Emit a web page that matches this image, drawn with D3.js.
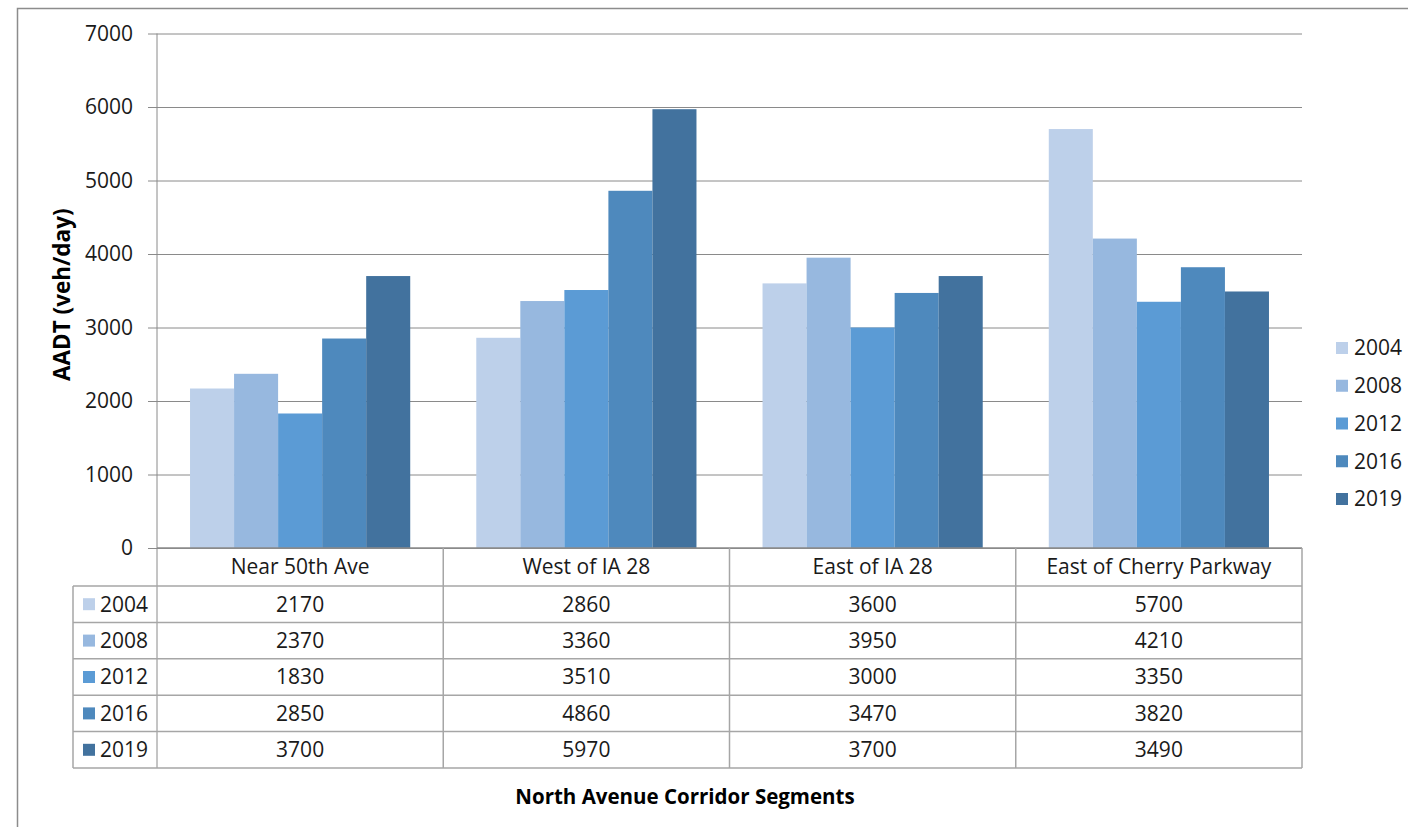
<!DOCTYPE html>
<html>
<head>
<meta charset="utf-8">
<script src="https://cdn.jsdelivr.net/npm/d3@7"></script>
<style>
  html, body { margin: 0; padding: 0; background: #fff; }
  svg { display: block; font-family: "Open Sans", "Noto Sans", sans-serif; }
</style>
</head>
<body>
<svg id="chart" width="1408" height="827"></svg>
<script>
// AADT by corridor segment and count year
const categories = ["Near 50th Ave", "West of IA 28", "East of IA 28", "East of Cherry Parkway"];
const years = ["2004", "2008", "2012", "2016", "2019"];
const v2004 = [2170, 2860, 3600, 5700];
const v2008 = [2370, 3360, 3950, 4210];
const v2012 = [1830, 3510, 3000, 3350];
const v2016 = [2850, 4860, 3470, 3820];
const v2019 = [3700, 5970, 3700, 3490];
const yTicks = [0, 1000, 2000, 3000, 4000, 5000, 6000, 7000];
const yTitle = "AADT (veh/day)";
const xTitle = "North Avenue Corridor Segments";

const seriesValues = [v2004, v2008, v2012, v2016, v2019];
const colors = ["#bdd0ea", "#97b8df", "#5b9bd5", "#4e89bd", "#42729e"];
const series = years.map((yr, i) => ({ year: yr, values: seriesValues[i], color: colors[i] }));

const svg = d3.select("#chart");
const gridColor = "#8a8a8a";
const tableColor = "#a6a6a6";
const textColor = "#1a1a1a";
const fs = 21;

// plot geometry
const plotLeft = 157, plotRight = 1302, plotTop = 33.5, plotBase = 548;
const tableLeft = 73, tableHeaderBottom = 586, tableBottom = 768;

const x0 = d3.scaleBand().domain(categories).range([plotLeft, plotRight]).paddingInner(0).paddingOuter(0);
// 150% gap between groups -> bars take 5 / 6.5 of the band
const groupPad = 0.75 / 6.5;
const x1 = d3.scaleBand().domain(years).range([x0.bandwidth() * groupPad, x0.bandwidth() * (1 - groupPad)]).padding(0);
const y = d3.scaleLinear().domain([0, 7000]).range([plotBase, plotTop]);

// outer frame
svg.append("path")
  .attr("d", `M17.5,827 V8.5 H1408`)
  .attr("fill", "none").attr("stroke", "#8c8c8c").attr("stroke-width", 1.5);

// gridlines and y axis
const yAxis = d3.axisLeft(y).tickValues(yTicks).tickSize(-(plotRight - plotLeft)).tickPadding(24).tickFormat(d3.format("d"));
const gy = svg.append("g").attr("transform", `translate(${plotLeft},0)`).call(yAxis);
gy.select(".domain").remove();
gy.selectAll(".tick line").attr("stroke", gridColor).attr("x1", -9).attr("stroke-width", 1);
gy.selectAll(".tick text").attr("font-size", fs).attr("fill", textColor)
  .attr("font-family", "'Open Sans', sans-serif");

// bars
const groups = svg.append("g").selectAll("g").data(series).join("g").attr("fill", d => d.color);
groups.selectAll("rect")
  .data(d => d.values.map((v, i) => ({ cat: categories[i], year: d.year, v })))
  .join("rect")
  .attr("x", d => x0(d.cat) + x1(d.year))
  .attr("width", x1.bandwidth())
  .attr("y", d => y(d.v))
  .attr("height", d => plotBase - y(d.v));

// y axis line (continues through the data table)
svg.append("line").attr("x1", plotLeft).attr("x2", plotLeft).attr("y1", plotTop).attr("y2", tableBottom)
  .attr("stroke", gridColor).attr("stroke-width", 1);

// data table
const rowScale = d3.scaleBand().domain(years).range([tableHeaderBottom, tableBottom]);
const tbl = svg.append("g").attr("stroke", tableColor).attr("stroke-width", 1.5).attr("fill", "none");
// horizontal rules
tbl.append("line").attr("x1", plotLeft).attr("x2", plotRight).attr("y1", plotBase).attr("y2", plotBase).attr("stroke", gridColor);
tbl.selectAll("line.row").data(years).join("line").attr("class", "row")
  .attr("x1", tableLeft).attr("x2", plotRight)
  .attr("y1", d => rowScale(d)).attr("y2", d => rowScale(d));
tbl.append("line").attr("x1", tableLeft).attr("x2", plotRight).attr("y1", tableBottom).attr("y2", tableBottom);
// vertical rules
tbl.append("line").attr("x1", tableLeft).attr("x2", tableLeft).attr("y1", tableHeaderBottom).attr("y2", tableBottom);
tbl.selectAll("line.col").data(categories).join("line").attr("class", "col")
  .attr("x1", d => x0(d) + x0.bandwidth()).attr("x2", d => x0(d) + x0.bandwidth())
  .attr("y1", plotBase).attr("y2", tableBottom);

// category headers
svg.append("g").selectAll("text").data(categories).join("text")
  .attr("x", d => x0(d) + x0.bandwidth() / 2)
  .attr("y", (plotBase + tableHeaderBottom) / 2)
  .attr("dy", "0.35em").attr("text-anchor", "middle")
  .attr("font-size", fs).attr("fill", textColor)
  .text(d => d);

// row keys and values
const rows = svg.append("g").selectAll("g").data(series).join("g")
  .attr("transform", d => `translate(0,${rowScale(d.year) + rowScale.bandwidth() / 2})`);
rows.append("rect").attr("x", 83).attr("y", -6).attr("width", 12).attr("height", 12).attr("fill", d => d.color);
rows.append("text").attr("x", 100).attr("dy", "0.35em").attr("font-size", fs).attr("fill", textColor).text(d => d.year);
rows.selectAll("text.val").data(d => d.values.map((v, i) => ({ cat: categories[i], v })))
  .join("text").attr("class", "val")
  .attr("x", d => x0(d.cat) + x0.bandwidth() / 2)
  .attr("dy", "0.35em").attr("text-anchor", "middle")
  .attr("font-size", fs).attr("fill", textColor)
  .text(d => d.v);

// legend
const legendY = d3.scalePoint().domain(years).range([348, 499]);
const lg = svg.append("g").selectAll("g").data(series).join("g")
  .attr("transform", d => `translate(1336,${legendY(d.year)})`);
lg.append("rect").attr("x", 0).attr("y", -6).attr("width", 12).attr("height", 12).attr("fill", d => d.color);
lg.append("text").attr("x", 18).attr("dy", "0.35em").attr("font-size", fs).attr("fill", textColor).text(d => d.year);

// axis titles
svg.append("text")
  .attr("transform", `translate(62,${(plotTop + plotBase) / 2 + 4}) rotate(-90)`)
  .attr("text-anchor", "middle").attr("dy", "0.35em")
  .attr("font-size", 22.5).attr("font-weight", "bold").attr("fill", "#000")
  .text(yTitle);
svg.append("text")
  .attr("x", 685).attr("y", 797).attr("dy", "0.35em")
  .attr("text-anchor", "middle")
  .attr("font-size", 20.5).attr("font-weight", "bold").attr("fill", "#000")
  .text(xTitle);
</script>
</body>
</html>
